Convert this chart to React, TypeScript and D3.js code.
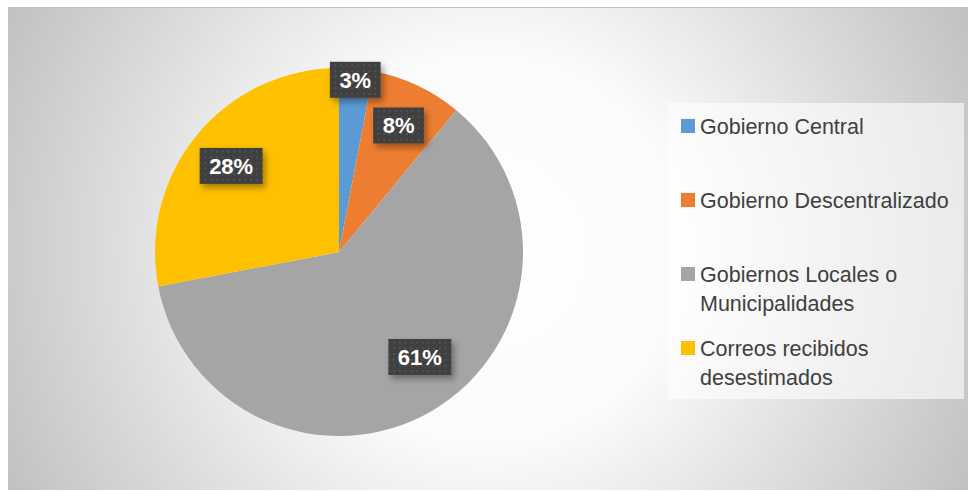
import React from "react";
import * as d3 from "d3";

const categories = [
  "Gobierno Central",
  "Gobierno Descentralizado",
  "Gobiernos Locales o Municipalidades",
  "Correos recibidos desestimados",
];
const legendLines = [
  ["Gobierno Central"],
  ["Gobierno Descentralizado"],
  ["Gobiernos Locales o", "Municipalidades"],
  ["Correos recibidos", "desestimados"],
];
const values = [3, 8, 61, 28];
const labels = ["3%", "8%", "61%", "28%"];
const colors = ["#5B9BD5", "#ED7D31", "#A5A5A5", "#FFC000"];
const labelRadiusFrac = [0.94, 0.76, 0.72, 0.75];
const labelAngleShiftDeg = [0, 0, -7, -1];

const W = 968;
const H = 491;
const cx = 339;
const cy = 252;
const R = 184;

function labelWidth(s: string, fs: number) {
  let w = 0;
  for (const ch of s) w += ch === "%" ? 0.889 : 0.556;
  return w * fs;
}

export default function App() {
  const pie = d3
    .pie<number>()
    .sort(null)
    .value((d) => d);
  const arcs = pie(values);
  const arc = d3.arc<d3.PieArcDatum<number>>().innerRadius(0).outerRadius(R);

  const legendY = d3.scaleLinear().domain([0, 1]).range([126, 200]);

  const fs = 22;
  const lfs = 21.5;

  return (
    <div style={{ position: "absolute", left: 0, top: 0 }}>
      <svg width={W} height={H} style={{ display: "block" }}>
        <defs>
          <radialGradient id="bg" gradientUnits="userSpaceOnUse" cx={488} cy={249} r={560}>
            <stop offset="0" stopColor="#ffffff" />
            <stop offset="0.35" stopColor="#fbfbfb" />
            <stop offset="1" stopColor="#bdbdbd" />
          </radialGradient>
          <pattern id="dots" width={5.7} height={5.7} patternUnits="userSpaceOnUse">
            <rect width={5.7} height={5.7} fill="#404040" />
            <rect x={2} y={2} width={1.6} height={1.6} fill="#5a5a5a" />
          </pattern>
          <filter id="shadow" x="-30%" y="-30%" width="160%" height="180%">
            <feDropShadow dx={3} dy={4} stdDeviation={3} floodColor="#000" floodOpacity={0.35} />
          </filter>
        </defs>
        <rect x={8} y={7} width={W - 8} height={H - 8} fill="url(#bg)" />
        <line x1={8} x2={W} y1={7.5} y2={7.5} stroke="#bfbfbf" strokeWidth={1} />

        <g transform={`translate(${cx},${cy})`}>
          {arcs.map((a, i) => (
            <path key={categories[i]} d={arc(a) || ""} fill={colors[i]} />
          ))}
          {arcs.map((a, i) => {
            const r = R * labelRadiusFrac[i];
            const mid = (a.startAngle + a.endAngle) / 2 + (labelAngleShiftDeg[i] * Math.PI) / 180;
            const lx = r * Math.sin(mid);
            const ly = -r * Math.cos(mid);
            const bw = labelWidth(labels[i], fs) + 19;
            const bh = 36;
            return (
              <g key={labels[i]} transform={`translate(${lx},${ly})`}>
                <rect
                  x={-bw / 2}
                  y={-bh / 2}
                  width={bw}
                  height={bh}
                  fill="url(#dots)"
                  filter="url(#shadow)"
                />
                <text
                  textAnchor="middle"
                  dy="0.36em"
                  fill="#ffffff"
                  fontFamily="'Liberation Sans', Arial, sans-serif"
                  fontWeight="bold"
                  fontSize={fs}
                >
                  {labels[i]}
                </text>
              </g>
            );
          })}
        </g>

        <rect x={668} y={103} width={296} height={296} fill="#ffffff" fillOpacity={0.6} />
        {legendLines.map((lines, i) => {
          const y = legendY(i);
          return (
            <g key={categories[i]}>
              <rect x={681} y={y - 7} width={14} height={14} fill={colors[i]} />
              {lines.map((t, j) => (
                <text
                  key={t}
                  x={700}
                  y={y + j * 29.5}
                  dy="0.36em"
                  fill="#404040"
                  fontFamily="'Liberation Sans', Arial, sans-serif"
                  fontSize={lfs}
                >
                  {t}
                </text>
              ))}
            </g>
          );
        })}
      </svg>
    </div>
  );
}
